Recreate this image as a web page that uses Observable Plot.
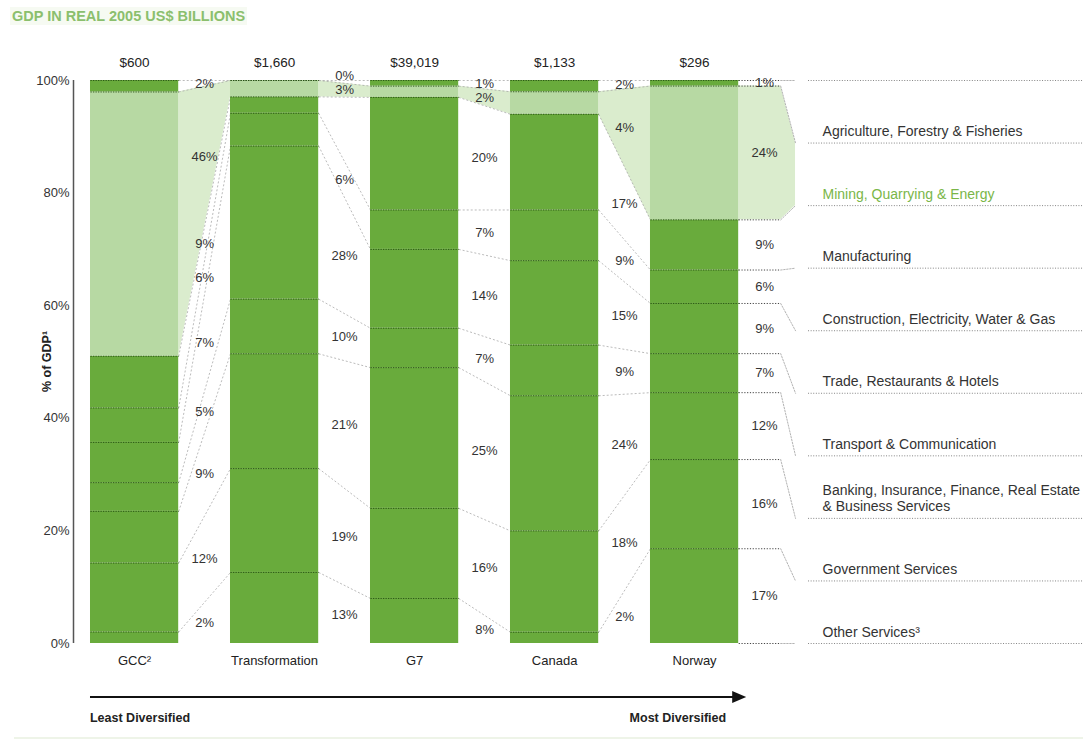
<!DOCTYPE html>
<html><head><meta charset="utf-8">
<script src="https://cdn.jsdelivr.net/npm/d3@7"></script>
<script src="https://cdn.jsdelivr.net/npm/@observablehq/plot@0.6"></script>
<style>
body{margin:0;background:#fff;font-family:"Liberation Sans",Arial,sans-serif;}
#title{height:30px;box-sizing:border-box;padding:7px 0 0 10px;}
#title span{font-size:14.5px;font-weight:bold;color:#8bbf6d;line-height:16px;background:#f6faf2;padding:1px 2px;}
</style></head><body>
<div id="title"><span>GDP IN REAL 2005 US$ BILLIONS</span></div>
<div id="chart"></div>
<script>
// ---- data ----
const columns = ["GCC²", "Transformation", "G7", "Canada", "Norway"];
const gdpLabels = ["$600", "$1,660", "$39,019", "$1,133", "$296"];
const sectors = [
  "Agriculture, Forestry & Fisheries",
  "Mining, Quarrying & Energy",
  "Manufacturing",
  "Construction, Electricity, Water & Gas",
  "Trade, Restaurants & Hotels",
  "Transport & Communication",
  "Banking, Insurance, Finance, Real Estate\n& Business Services",
  "Government Services",
  "Other Services³"
];
// shares (% of GDP), in sector order above
const gcc            = [2, 46, 9, 6, 7, 5, 9, 12, 2];
const transformation = [0, 3, 3, 6, 28, 10, 21, 19, 13];
const g7             = [1, 2, 20, 7, 14, 7, 25, 16, 8];
const canada         = [2, 4, 17, 9, 15, 9, 24, 18, 2];
const norway         = [1, 24, 9, 6, 9, 7, 12, 16, 17];
const hiddenLabels = ["Transformation|Manufacturing"];
const highlightSector = "Mining, Quarrying & Energy";
const yTicks = [0, 0.2, 0.4, 0.6, 0.8, 1];
const yLabel = "% of GDP¹";
const axisNotes = ["Least Diversified", "Most Diversified"];

// ---- layout ----
const DARK = "#69ab3c", LIGHT = "#b7d9a3", BAND = "#d3e9c4", HL_TEXT = "#7ab648";
const W = 0.63;                 // bar width (in column steps)
const XMIN = -0.1214, XMAX = 7.093;
const XE = 4.93, XL = 5.036, XLL = 5.129, XT = 5.229;
const FONT = "'Liberation Sans', Arial, Helvetica, sans-serif";

const series = [gcc, transformation, g7, canada, norway];
const segs = [];
series.forEach((vals, c) => {
  const total = d3.sum(vals);
  let cum = 0;
  for (let k = sectors.length - 1; k >= 0; k--) {
    const y1 = cum / total; cum += vals[k]; const y2 = cum / total;
    segs.push({c, k, col: columns[c], sector: sectors[k], value: vals[k], y1, y2, mid: (y1 + y2) / 2});
  }
});
const seg = (c, k) => segs.find(s => s.c === c && s.k === k);
const nS = sectors.length;
const legTop = k => 1 - k / nS, legBot = k => 1 - (k + 1) / nS;
const mk = sectors.indexOf(highlightSector);
const last = columns.length - 1;

// connection lines between columns
const links = [];
for (let c = 0; c < last; c++) for (let k = 0; k < nS; k++) {
  const a = seg(c, k), b = seg(c + 1, k);
  links.push({x1: c + W, y1: a.y2, x2: c + 1, y2: b.y2});
}
// highlighted bands
const bands = [];
for (let c = 0; c < last; c++) {
  const a = seg(c, mk), b = seg(c + 1, mk);
  bands.push({g: c, x: c + W, lo: a.y1, hi: a.y2}, {g: c, x: c + 1, lo: b.y1, hi: b.y2});
}
{
  const n = seg(last, mk);
  bands.push({g: last, x: last + W, lo: n.y1, hi: n.y2}, {g: last, x: XE, lo: n.y1, hi: n.y2},
             {g: last, x: XL, lo: legBot(mk), hi: legTop(mk)});
}
// last column -> legend connectors
const legLines = [], legExt = [];
for (let k = 0; k <= nS; k++) {
  const y = k < nS ? seg(last, k).y2 : 0;
  const yl = k < nS ? legTop(k) : 0;
  legLines.push({g: k, x: XE, y}, {g: k, x: XL, y: yl});
  legExt.push({x1: last + W, x2: XE, y});
}
// percent labels (placed mid-gap, on the connecting band)
const pct = [];
for (let c = 0; c <= last; c++) {
  const arr = segs.filter(s => s.c === c && !hiddenLabels.includes(s.col + "|" + s.sector))
    .map(s => {
      const nx = c < last ? seg(c + 1, s.k) : null;
      return {x: c + W + (1 - W) / 2, y: nx ? (s.mid + nx.mid) / 2 : s.mid, text: s.value + "%"};
    })
    .sort((a, b) => a.y - b.y);
  const gap = 14 / 563;
  for (let i = 1; i < arr.length; i++) if (arr[i].y - arr[i - 1].y < gap) arr[i].y = arr[i - 1].y + gap;
  pct.push(...arr);
}

const plot = Plot.plot({
  width: 1083, height: 725,
  marginTop: 50, marginBottom: 112, marginLeft: 73, marginRight: 0,
  x: {domain: [XMIN, XMAX], axis: null},
  y: {domain: [0, 1], axis: null},
  style: {fontFamily: FONT, fontSize: "13px", color: "#333", background: "#fff", overflow: "visible"},
  marks: [
    Plot.areaY(bands, {x: "x", y1: "lo", y2: "hi", z: "g", fill: BAND, fillOpacity: 0.85, curve: "linear"}),
    Plot.link(links, {x1: "x1", y1: "y1", x2: "x2", y2: "y2", stroke: "#a9a9a9", strokeWidth: 0.8, strokeDasharray: "2,2"}),
    Plot.line(legLines, {x: "x", y: "y", z: "g", stroke: "#a0a0a0", strokeWidth: 0.8, strokeDasharray: "1.5,1.5"}),
    Plot.link(legExt, {x1: "x1", x2: "x2", y1: "y", y2: "y", stroke: "#444", strokeWidth: 1, strokeDasharray: "1.2,1.6"}),
    Plot.rect(segs, {x1: d => d.c, x2: d => d.c + W, y1: "y1", y2: "y2",
      fill: d => d.sector === highlightSector ? LIGHT : DARK}),
    Plot.link(segs, {x1: d => d.c, x2: d => d.c + W, y1: "y2", y2: "y2",
      stroke: "#234a12", strokeWidth: 1, strokeDasharray: "1.3,1.2", strokeOpacity: 0.85}),
    Plot.ruleY(d3.range(nS + 1).map(i => 1 - i / nS), {x1: XLL, x2: XMAX, stroke: "#666", strokeWidth: 0.8, strokeDasharray: "1,1.6"}),
    Plot.ruleX([XMIN], {y1: 0, y2: 1, stroke: "#555", strokeWidth: 1.5}),
    Plot.axisY(yTicks, {tickFormat: d3.format(".0%"), tickSize: 0, tickPadding: 4, label: null, fontSize: 13, fill: "#333"}),
    Plot.text(columns, {x: (d, i) => i + W / 2, frameAnchor: "top", lineAnchor: "middle", dy: -18, text: (d, i) => gdpLabels[i], fill: "#222", fontSize: 13.5}),
    Plot.text(columns, {x: (d, i) => i + W / 2, frameAnchor: "bottom", lineAnchor: "middle", dy: 17, text: d => d, fill: "#222"}),
    Plot.text(pct, {x: "x", y: "y", text: "text", fill: "#333"}),
    Plot.text(sectors, {x: () => XT, y: (d, i) => legBot(i), dy: -7, lineAnchor: "bottom", textAnchor: "start",
      lineHeight: 1.15, fontSize: 14, text: d => d, fill: d => d === highlightSector ? HL_TEXT : "#333"})
  ]
});
document.getElementById("chart").appendChild(plot);

// y-axis title, axis arrow + notes (positioned via the plot's scales)
const sx = plot.scale("x"), sy = plot.scale("y");
const svg = d3.select(plot);
const g = svg.append("g").attr("font-family", FONT);
g.append("text")
  .attr("transform", `translate(${sx.apply(XMIN) - 26},${(sy.apply(0) + sy.apply(1)) / 2}) rotate(-90)`)
  .attr("text-anchor", "middle").attr("dy", "0.35em").attr("font-size", 12.5).attr("font-weight", "bold").attr("fill", "#222")
  .text(yLabel);
const xa = sx.apply(0), xb = sx.apply(last + W);
const ya = sy.apply(0) + 54;
g.append("line").attr("x1", xa).attr("x2", xb - 4).attr("y1", ya).attr("y2", ya).attr("stroke", "#111").attr("stroke-width", 2);
g.append("path").attr("d", `M${xb - 6},${ya - 6}L${xb + 8},${ya}L${xb - 6},${ya + 6}Z`).attr("fill", "#111");
g.append("text").attr("x", xa).attr("y", ya + 25).attr("text-anchor", "start").attr("font-size", 12.5).attr("font-weight", "bold").attr("fill", "#222").text(axisNotes[0]);
g.append("text").attr("x", xb - 12).attr("y", ya + 25).attr("text-anchor", "end").attr("font-size", 12.5).attr("font-weight", "bold").attr("fill", "#222").text(axisNotes[1]);
g.append("line").attr("x1", 14).attr("x2", 1083).attr("y1", ya + 41).attr("y2", ya + 41).attr("stroke", "#eef4e8").attr("stroke-width", 2);
</script>
</body></html>
